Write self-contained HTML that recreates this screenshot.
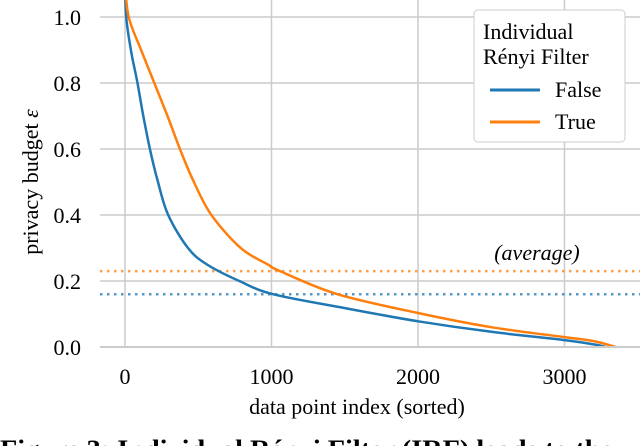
<!DOCTYPE html>
<html><head><meta charset="utf-8"><style>
html,body{margin:0;padding:0;background:#fff;overflow:hidden}
svg{display:block;font-family:"Liberation Serif",serif}
</style></head><body>
<svg id="chart" width="640" height="446" viewBox="0 0 640 446" xmlns="http://www.w3.org/2000/svg">
<g id="grid"></g>
<g id="avg"></g>
<g id="series"></g>
<g id="axes"></g>
<text x="537" y="260" font-size="22" font-style="italic" text-anchor="middle">(average)</text>
<g>
<rect x="474" y="10" width="151" height="132" rx="4" fill="#fff" stroke="#ccc" stroke-width="1"/>
<text x="483" y="39" font-size="22">Individual</text>
<text x="483" y="64" font-size="22">Rényi Filter</text>
<g><line x1="490" y1="90" x2="540" y2="90" stroke="#1f77b4" stroke-width="3"/><text x="555" y="97" font-size="22">False</text></g>
<g><line x1="490" y1="122" x2="540" y2="122" stroke="#ff7f0e" stroke-width="3"/><text x="555" y="129" font-size="22">True</text></g>
</g>
<text transform="translate(38,182) rotate(-90)" font-size="22" text-anchor="middle">privacy budget <tspan font-style="italic">ε</tspan></text>
<text x="357" y="414" font-size="22" text-anchor="middle">data point index (sorted)</text>
<text x="0" y="458" font-size="26" font-weight="bold" textLength="613" lengthAdjust="spacingAndGlyphs">Figure 3: Individual Rényi Filter (IRF) leads to the</text>
</svg>
<script>
const xTicks = [0, 1000, 2000, 3000];
const yTicks = [0.0, 0.2, 0.4, 0.6, 0.8, 1.0];
const falseIdx = [0, 8, 40, 85, 125, 170, 225, 295, 430, 560, 780, 1010, 1500, 2000, 2500, 3000, 3200, 3280];
const falseEps = [1.1, 1.0, 0.9, 0.8, 0.7, 0.6, 0.5, 0.4, 0.3, 0.25, 0.2, 0.16, 0.118, 0.078, 0.046, 0.021, 0.008, 0.0];
const trueIdx = [0, 25, 110, 200, 290, 375, 470, 590, 790, 975, 1058, 1450, 2000, 2500, 3000, 3200, 3350];
const trueEps = [1.1, 1.0, 0.9, 0.8, 0.7, 0.6, 0.5, 0.4, 0.3, 0.25, 0.23, 0.16, 0.103, 0.06, 0.03, 0.018, 0.0];
const avgValues = [0.16, 0.23];
const seriesColors = ['#1f77b4', '#ff7f0e'];
const NS = 'http://www.w3.org/2000/svg';
const xs = v => 125 + v * 0.1465;
const ys = v => 347 - v * 330;
const L = 100, R = 640, T = 0, B = 347;
function mk(tag, attrs, parent){const e=document.createElementNS(NS,tag);for(const k in attrs)e.setAttribute(k,attrs[k]);parent.appendChild(e);return e;}
const grid=document.getElementById('grid'), axes=document.getElementById('axes');
xTicks.forEach(t=>{
  const l=mk('line',{x1:xs(t),x2:xs(t),y1:T,y2:B,stroke:'#cccccc','stroke-width':1.5},grid);
  
  
  const tx=mk('text',{x:xs(t),y:384,'font-size':22,'text-anchor':'middle'},axes);
  
  
  tx.textContent=String(t);
});
yTicks.forEach(t=>{
  const l=mk('line',{x1:L,x2:R,y1:ys(t),y2:ys(t),stroke:'#cccccc','stroke-width':1.5},grid);
  
  
  const tx=mk('text',{x:81,y:ys(t)+8,'font-size':22,'text-anchor':'end'},axes);
  
  
  tx.textContent=t.toFixed(1);
});
const spine=mk('line',{x1:L,x2:R,y1:B,y2:B,stroke:'#cccccc','stroke-width':2},axes);


const avg=document.getElementById('avg');
avgValues.forEach((v,i)=>{
  const l=mk('line',{x1:L,x2:R,y1:ys(v),y2:ys(v),stroke:seriesColors[i],'stroke-width':2.5,'stroke-dasharray':'2.5 4.5',opacity:0.75},avg);
  
  
});
function smooth(pts){
  let d='M'+pts[0][0].toFixed(1)+','+pts[0][1].toFixed(1);
  for(let i=0;i<pts.length-1;i++){
    const p0=pts[Math.max(i-1,0)],p1=pts[i],p2=pts[i+1],p3=pts[Math.min(i+2,pts.length-1)];
    const c1=[p1[0]+(p2[0]-p0[0])/6,p1[1]+(p2[1]-p0[1])/6];
    const c2=[p2[0]-(p3[0]-p1[0])/6,p2[1]-(p3[1]-p1[1])/6];
    d+=' C'+c1.map(v=>v.toFixed(1)).join(',')+' '+c2.map(v=>v.toFixed(1)).join(',')+' '+p2[0].toFixed(1)+','+p2[1].toFixed(1);
  }
  return d;
}
const ser=document.getElementById('series');
[[falseIdx,falseEps],[trueIdx,trueEps]].forEach((s,i)=>{
  const pts=s[0].map((x,j)=>[xs(x),ys(s[1][j])]);
  const p=mk('path',{d:smooth(pts),fill:'none',stroke:seriesColors[i],'stroke-width':2.5,'stroke-linejoin':'round'},ser);
  
  
});
</script>
</body></html>
